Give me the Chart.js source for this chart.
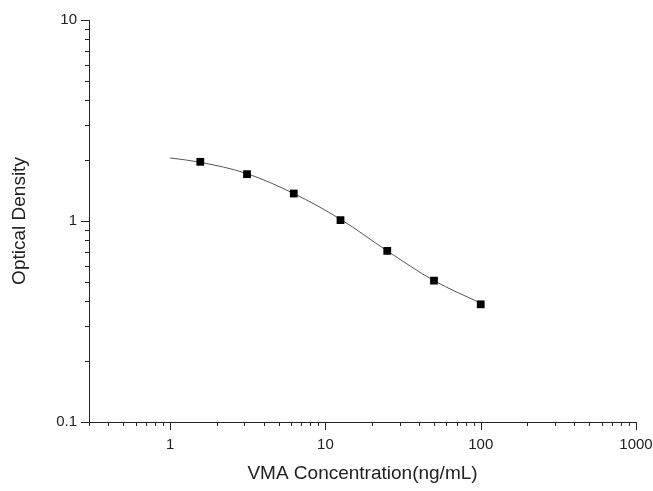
<!DOCTYPE html>
<html>
<head>
<meta charset="utf-8">
<script src="https://cdn.jsdelivr.net/npm/chart.js@4/dist/chart.umd.min.js"></script>
<style>
  html, body { margin: 0; padding: 0; background: #fff; }
  #wrap { width: 653px; height: 491px; }
</style>
</head>
<body>
<div id="wrap"><canvas id="canvas"></canvas></div>
<script>
// standard concentrations and measured OD
var concentrations = [1.5625, 3.125, 6.25, 12.5, 25, 50, 100];
var opticalDensity = [1.97, 1.71, 1.37, 1.01, 0.71, 0.505, 0.385];

// fitted curve
var curveX = [1, 1.5625, 3.125, 6.25, 12.5, 25, 50, 100];
var curveY = [2.06, 1.96, 1.72, 1.37, 1.02, 0.71, 0.505, 0.39];

var xTicks = [0.3, 0.4, 0.5, 0.6, 0.7, 0.8, 0.9, 1, 2, 3, 4, 5, 6, 7, 8, 9,
  10, 20, 30, 40, 50, 60, 70, 80, 90, 100, 200, 300, 400, 500, 600, 700, 800, 900, 1000];
var yTicks = [0.1, 0.2, 0.3, 0.4, 0.5, 0.6, 0.7, 0.8, 0.9, 1, 2, 3, 4, 5, 6, 7, 8, 9, 10];

function isDecade(v) {
  var l = Math.log10(v);
  return Math.abs(l - Math.round(l)) < 1e-6;
}

function toPoints(xs, ys) {
  return xs.map(function(x, i) { return { x: x, y: ys[i] }; });
}

// outward tick marks, long at decades, short elsewhere
var tickMarks = {
  id: 'tickMarks',
  afterDraw: function(chart) {
    var ctx = chart.ctx;
    ctx.save();
    ctx.strokeStyle = '#222';
    ctx.lineWidth = 1;
    var xs = chart.scales.x, ys = chart.scales.y;
    xTicks.forEach(function(v) {
      var px = Math.round(xs.getPixelForValue(v)) + 0.5;
      var len = isDecade(v) ? 8 : 4;
      ctx.beginPath();
      ctx.moveTo(px, xs.top);
      ctx.lineTo(px, xs.top + len);
      ctx.stroke();
    });
    yTicks.forEach(function(v) {
      var py = Math.round(ys.getPixelForValue(v)) + 0.5;
      var len = isDecade(v) ? 8 : 4;
      ctx.beginPath();
      ctx.moveTo(ys.right, py);
      ctx.lineTo(ys.right - len, py);
      ctx.stroke();
    });
    ctx.restore();
  }
};

var config = {
  type: 'scatter',
  data: {
    datasets: [{
      label: 'standards',
      data: toPoints(concentrations, opticalDensity),
      showLine: false,
      pointStyle: 'rect',
      pointRadius: 5.5,
      pointHoverRadius: 5.5,
      backgroundColor: '#000',
      borderColor: '#000',
      borderWidth: 0
    }, {
      label: 'fit',
      data: toPoints(curveX, curveY),
      showLine: true,
      pointRadius: 0,
      borderColor: '#555',
      borderWidth: 1,
      cubicInterpolationMode: 'monotone',
      fill: false
    }]
  },
  options: {
    responsive: true,
    maintainAspectRatio: false,
    animation: false,
    layout: { padding: { top: 20, right: 17, left: 0, bottom: 0 } },
    plugins: {
      legend: { display: false },
      tooltip: { enabled: false }
    },
    scales: {
      x: {
        type: 'logarithmic',
        min: 0.3,
        max: 1000,
        afterBuildTicks: function(scale) {
          scale.ticks = xTicks.map(function(v) { return { value: v }; });
        },
        afterFit: function(scale) {
          scale.height = 69;
          scale.paddingLeft = 0;
          scale.paddingRight = 0;
        },
        grid: { display: true, drawOnChartArea: false, drawTicks: false },
        border: { display: true, color: '#222', width: 1 },
        ticks: {
          autoSkip: false,
          maxRotation: 0,
          padding: 14,
          color: '#222',
          font: { family: 'Liberation Sans, Arial, sans-serif', size: 15 },
          callback: function(v) { return isDecade(v) ? String(v) : ''; }
        },
        title: {
          display: true,
          text: 'VMA Concentration(ng/mL)',
          color: '#222',
          padding: { top: 0, bottom: 5.5 },
          font: { family: 'Liberation Sans, Arial, sans-serif', size: 19 }
        }
      },
      y: {
        type: 'logarithmic',
        min: 0.1,
        max: 10,
        afterBuildTicks: function(scale) {
          scale.ticks = yTicks.map(function(v) { return { value: v }; });
        },
        afterFit: function(scale) {
          scale.width = 89;
          scale.paddingTop = 0;
          scale.paddingBottom = 0;
        },
        grid: { display: true, drawOnChartArea: false, drawTicks: false },
        border: { display: true, color: '#222', width: 1 },
        ticks: {
          autoSkip: false,
          padding: 12,
          color: '#222',
          font: { family: 'Liberation Sans, Arial, sans-serif', size: 15 },
          callback: function(v) { return isDecade(v) ? String(v) : ''; }
        },
        title: {
          display: true,
          text: 'Optical Density',
          color: '#222',
          padding: { top: 8.5, bottom: 0 },
          font: { family: 'Liberation Sans, Arial, sans-serif', size: 19 }
        }
      }
    }
  },
  plugins: [tickMarks]
};

window.onload = function() {
  var ctx = document.getElementById('canvas').getContext('2d');
  window.myChart = new Chart(ctx, config);
};
</script>
</body>
</html>
